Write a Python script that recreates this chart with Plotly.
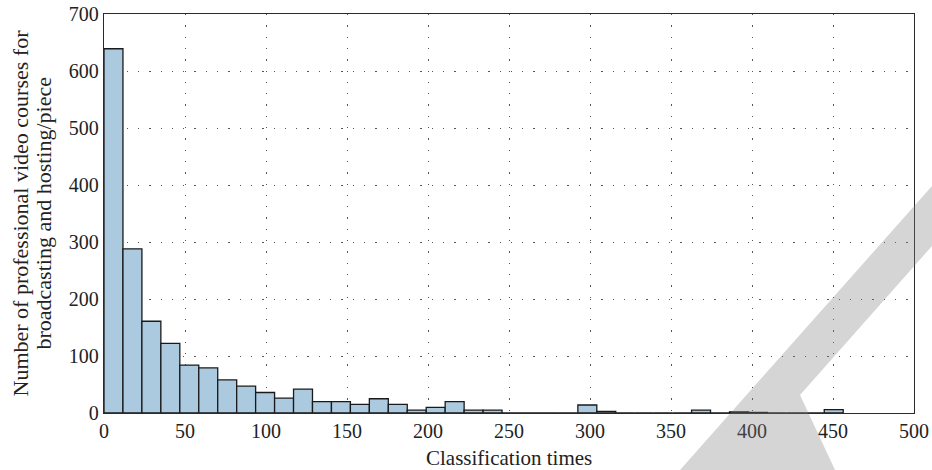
import plotly.graph_objects as go

# ---- data ----
bin_width = 11.7
bin_counts = [639, 288, 161, 122, 84, 79, 58, 47, 36, 26,
              42, 20, 20, 15, 25, 15, 5, 10, 20, 5,
              5, 0, 0, 0, 0, 14, 3, 0, 0, 0,
              0, 5, 0, 2, 1, 0, 0, 0, 6]
x_ticks = [0, 50, 100, 150, 200, 250, 300, 350, 400, 450, 500]
y_ticks = [0, 100, 200, 300, 400, 500, 600, 700]
x_title = "Classification times"
y_title_lines = ["Number of professional video courses for", "broadcasting and hosting/piece"]

bin_centers = [bin_width * (i + 0.5) for i in range(len(bin_counts))]

W, H = 932, 470
ML, MR, MT, MB = 104, 18, 14, 57
pw, ph = W - ML - MR, H - MT - MB

fig = go.Figure()
fig.add_trace(go.Bar(
    x=bin_centers, y=bin_counts, width=[bin_width] * len(bin_counts),
    marker=dict(color="#abc9df", line=dict(color="#1a1a1a", width=1.3)),
    showlegend=False, hoverinfo="skip",
))

font_family = "Liberation Serif, DejaVu Serif, serif"
FS = 20
TXT = "#222222"
grid_kw = dict(showgrid=True, gridcolor="#555555", griddash="1.3px,10px", gridwidth=1,
               showline=True, linecolor="#2a2a2a", linewidth=1.2, mirror=True,
               zeroline=False, ticks="", automargin=False,
               tickfont=dict(size=FS, color=TXT, family=font_family))

fig.update_xaxes(range=[0, 500], tickvals=x_ticks, ticktext=[str(v) for v in x_ticks], **grid_kw)
fig.update_yaxes(range=[0, 700], tickvals=y_ticks, ticktext=[str(v) for v in y_ticks], **grid_kw)

def px2paper(px, py):
    return (px - ML) / pw, (H - MB - py) / ph

# axis titles as annotations (pixel placement)
ax, ay = px2paper(ML + pw / 2, 458)
fig.add_annotation(text=x_title, x=ax, y=ay, xref="paper", yref="paper", showarrow=False,
                   xanchor="center", yanchor="middle", font=dict(size=21, color=TXT, family=font_family))
for cx, line in zip([20, 43], y_title_lines):
    lx, ly = px2paper(cx, MT + ph / 2)
    fig.add_annotation(text=line, x=lx, y=ly, xref="paper", yref="paper", showarrow=False, textangle=-90,
                       xanchor="center", yanchor="middle", font=dict(size=22, color=TXT, family=font_family))

# publisher watermark (decorative)
def to_path(pts):
    parts = []
    for i, (px, py) in enumerate(pts):
        x, y = px2paper(px, py)
        parts.append(("M" if i == 0 else "L") + f"{x:.4f},{y:.4f}")
    return " ".join(parts) + " Z"

wm_px = [(680, 470), (932, 186), (932, 246), (800, 395), (835, 470)]
fig.add_shape(type="path", xref="paper", yref="paper", path=to_path(wm_px),
              fillcolor="rgba(128,128,128,0.33)", line=dict(width=0), layer="above")

fig.update_layout(
    width=W, height=H, margin=dict(l=ML, r=MR, t=MT, b=MB, autoexpand=False),
    plot_bgcolor="white", paper_bgcolor="white",
    bargap=0, font=dict(family=font_family, color=TXT), hovermode=False,
)
fig.write_html("out.html", config={"displayModeBar": False, "staticPlot": True},
               post_script="document.body.style.margin='0';document.body.style.overflow='hidden';")
